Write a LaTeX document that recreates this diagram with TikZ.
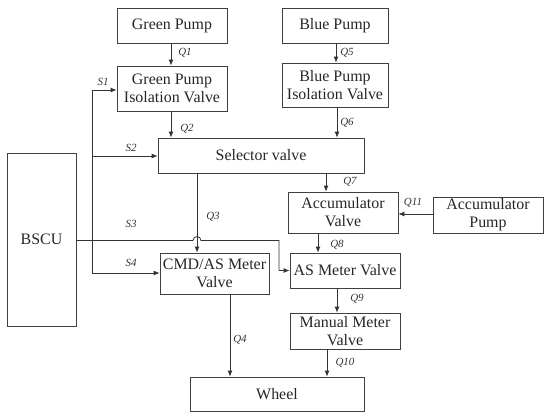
\documentclass[tikz,border=0pt]{standalone}
\usepackage{fontspec}
\setmainfont{Liberation Serif}
\usetikzlibrary{arrows.meta,calc}
\begin{document}
\begin{tikzpicture}[x=1bp,y=-1bp,
  box/.style={draw=black!75,line width=0.8bp,rectangle,inner sep=0pt,align=center,font=\fontsize{16}{18}\selectfont,text=black!85},
  lab/.style={font=\fontsize{11}{12}\selectfont\itshape,text=black!80,inner sep=0pt},
  con/.style={draw=black!80,line width=0.8bp},
  arr/.style={con,-{Latex[length=6bp,width=5bp]}}]
\useasboundingbox (0,0) rectangle (550,418);
\node[box,minimum width=110bp,minimum height=35bp] (gp) at (172,25.5) {Green Pump};
\node[box,minimum width=106bp,minimum height=35bp] (bp) at (335,25.5) {Blue Pump};
\node[box,minimum width=110bp,minimum height=45bp] (giv) at (172,88.5) {Green Pump\\Isolation Valve};
\node[box,minimum width=106bp,minimum height=44bp] (biv) at (335,85) {Blue Pump\\Isolation Valve};
\node[box,minimum width=206bp,minimum height=35bp] (sel) at (261,155.5) {Selector valve};
\node[box,minimum width=110bp,minimum height=41bp] (av) at (343,212.5) {Accumulator\\Valve};
\node[box,minimum width=110bp,minimum height=36bp] (ap) at (488,215) {Accumulator\\Pump};
\node[box,minimum width=110bp,minimum height=35bp] (asm) at (345,270.5) {AS Meter Valve};
\node[box,minimum width=109bp,minimum height=41bp] (cmd) at (214.5,273.5) {CMD/AS Meter\\Valve};
\node[box,minimum width=110bp,minimum height=36bp] (mmv) at (345,331) {Manual Meter\\Valve};
\node[box,minimum width=174bp,minimum height=34bp] (wh) at (277,394) {Wheel};
\node[box,minimum width=69bp,minimum height=173bp] (bscu) at (41.5,239.5) {BSCU};
% flows
\draw[arr] ([xshift=-1bp]gp.south) -- ([xshift=-1bp]giv.north);
\draw[arr] ([xshift=-1bp]giv.south) -- ([xshift=-1bp]giv.south |- sel.north);
\draw[arr] ([xshift=1bp]bp.south) -- ([xshift=1bp]biv.north);
\draw[arr] ([xshift=2bp]biv.south) -- ([xshift=2bp]biv.south |- sel.north);
\coordinate (q7) at (326,0);
\draw[arr] (q7 |- sel.south) -- (q7 |- av.north);
\coordinate (q8) at (318,0);
\draw[arr] (q8 |- av.south) -- (q8 |- asm.north);
\coordinate (q9) at (337,0);
\draw[arr] (q9 |- asm.south) -- (q9 |- mmv.north);
\coordinate (q10) at (327,0);
\draw[arr] (q10 |- mmv.south) -- (q10 |- wh.north);
\coordinate (q3) at (197,0);
\draw[arr] (q3 |- sel.south) -- (q3 |- cmd.north);
\coordinate (q4) at (230,0);
\draw[arr] (q4 |- cmd.south) -- (q4 |- wh.north);
\coordinate (q11) at (0,214);
\draw[arr] (ap.west |- q11) -- (av.east |- q11);
% signals
\coordinate (bus1) at (92,90);
\coordinate (bus2) at (92,156);
\coordinate (bus4) at (92,273);
\coordinate (s3) at (0,240.5);
\coordinate (s3x) at (279,240.5);
\draw[con] (bus1) -- (bus4);
\draw[arr] (bus1) -- (giv.west |- bus1);
\draw[arr] (bus2) -- (sel.west |- bus2);
\draw[arr] (bus4) -- (cmd.west |- bus4);
\draw[con] (bscu.east |- s3) -- ($(q3 |- s3)+(-4,0)$) arc[start angle=180,end angle=0,radius=4bp] -- (s3x) -- (s3x |- asm.west);
\draw[arr] (s3x |- asm.west) -- (asm.west);
% labels
\node[lab] (lq1) at (185,53) {Q1};
\node[lab] (lq5) at (347,53) {Q5};
\node[lab] (ls1) at (103,82) {S1};
\node[lab] (lq2) at (187,129) {Q2};
\node[lab] (lq6) at (347,123) {Q6};
\node[lab] (ls2) at (131,148) {S2};
\node[lab] (lq3) at (213,217) {Q3};
\node[lab] (ls3) at (131,224) {S3};
\node[lab] (ls4) at (131,263) {S4};
\node[lab] (lq7) at (350,182) {Q7};
\node[lab] (lq11) at (413,203) {Q11};
\node[lab] (lq8) at (337,245) {Q8};
\node[lab] (lq9) at (357,299) {Q9};
\node[lab] (lq4) at (240,340) {Q4};
\node[lab] (lq10) at (345,363) {Q10};
\end{tikzpicture}
\end{document}
